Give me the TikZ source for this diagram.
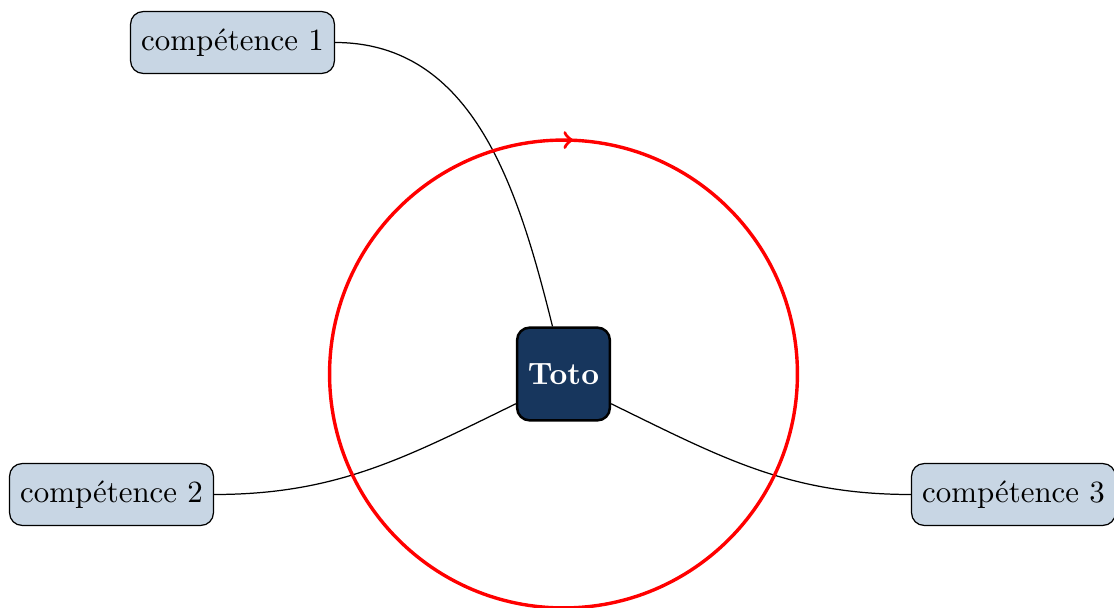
\documentclass[tikz,border=0pt]{standalone}
\usetikzlibrary{decorations.markings}
\definecolor{lightnode}{RGB}{200,214,228}
\definecolor{darknode}{RGB}{23,54,93}
\begin{document}
\begin{tikzpicture}[x=0.3236pt, y=-0.3236pt,
  skill/.style={draw, fill=lightnode, rounded corners=4pt, minimum height=20pt, inner xsep=3.4pt, font=\normalsize},
  center/.style={draw, line width=0.8pt, fill=darknode, text=white, rounded corners=4pt, minimum size=30pt, font=\bfseries},
  link/.style={line width=0.4pt}]
\useasboundingbox (0,0) rectangle (1114,608);
\node[center] (toto) at (563.5,374) {Toto};
\node[skill] (c1) at (232.5,42.5) {compétence 1};
\node[skill] (c2) at (111.5,494.5) {compétence 2};
\node[skill] (c3) at (1013.5,494.5) {compétence 3};
\draw[link] (c1.east) to[out=0, in=104] (toto.103);
\draw[link] (c2.east) to[out=0, in=206] (toto.212);
\draw[link] (c3.west) to[out=180, in=334] (toto.328);
\draw[red, line width=1.1pt, postaction={decorate},
  decoration={markings, mark=at position 0.25 with {\arrow[line width=1.1pt]{<}}}]
  (toto.center) circle (75.7pt);
\end{tikzpicture}
\end{document}
